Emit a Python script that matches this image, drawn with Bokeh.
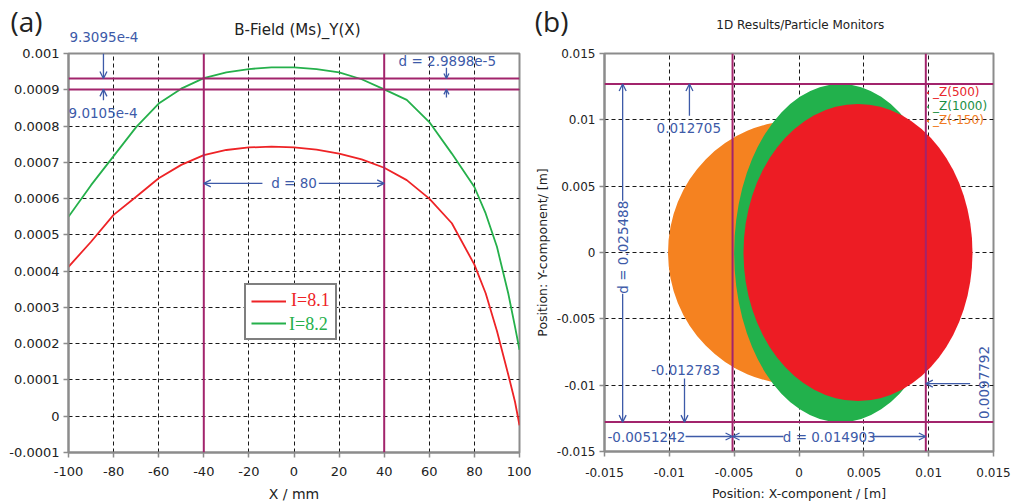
import math
from bokeh.plotting import figure
from bokeh.layouts import row, column
from bokeh.models import (Span, Label, Arrow, OpenHead, Legend, LegendItem,
                          FixedTicker, Range1d, LinearAxis)
from bokeh.embed import file_html
from bokeh.resources import INLINE

# ---------------- panel (a) data ----------------
x_mm = [-100, -90, -80, -70, -60, -50, -40, -30, -20, -10, 0, 10, 20, 30,
        40, 50, 60, 70, 80, 85, 90, 95, 98, 100]
b_i81 = [0.000412, 0.000481, 0.000555, 0.000605, 0.000656, 0.000693, 0.000720,
         0.000734, 0.000741, 0.000743, 0.000741, 0.000735, 0.000724, 0.000708,
         0.000685, 0.000651, 0.000600, 0.000532, 0.000418, 0.000339, 0.000235,
         0.000115, 0.000040, -0.000025]
b_i82 = [0.000550, 0.000637, 0.000717, 0.000797, 0.000862, 0.000903, 0.000932,
         0.000948, 0.000957, 0.000962, 0.000962, 0.000957, 0.000948, 0.000929,
         0.000901, 0.000872, 0.000811, 0.000724, 0.000632, 0.000559, 0.000467,
         0.000339, 0.000247, 0.000183]
series_a = ["I=8.1", "I=8.2"]
a_xticks = [-100, -80, -60, -40, -20, 0, 20, 40, 60, 80, 100]
a_xlabels = ["-100", "-80", "-60", "-40", "-20", "0", "20", "40", "60", "80", "100"]
a_yticks = [-0.0001, 0.0, 0.0001, 0.0002, 0.0003, 0.0004, 0.0005, 0.0006,
            0.0007, 0.0008, 0.0009, 0.001]
a_ylabels = ["-0.0001", "0", "0.0001", "0.0002", "0.0003", "0.0004", "0.0005",
             "0.0006", "0.0007", "0.0008", "0.0009", "0.001"]
a_cursor_x = [-40, 40]
a_cursor_y = [9.3095e-4, 9.0105e-4]
a_texts = ["9.3095e-4", "9.0105e-4", "d = 2.9898e-5", "d = 80"]

# ---------------- panel (b) data ----------------
monitor_names = ["_Z(500)", "_Z(1000)", "_Z(-150)"]
monitor_cx = [0.00455, 0.0032, -0.0002]
monitor_cy = [0.0, -0.00004, 0.0]
monitor_w = [0.01766, 0.0164, 0.0198]
monitor_h = [0.0224, 0.0255, 0.01985]
b_ticks = [-0.015, -0.01, -0.005, 0.0, 0.005, 0.01, 0.015]
b_labels = ["-0.015", "-0.01", "-0.005", "0", "0.005", "0.01", "0.015"]
b_cursor_x = [-0.0051242, 0.0097792]
b_cursor_y = [0.012705, -0.012783]

# ---------------- styles / layout constants ----------------
RED = "#ee2326"
GREEN = "#25b04b"
FILL = ["#ed1c24", "#22b14c", "#f58220"]
TXT = ["#e8262b", "#1c8f44", "#f07a22"]
PURPLE = "#a2246c"
ANN = "#3d5aa8"
AXC = "#8c8c8c"
DARK = "#222222"
FONT = "DejaVu Sans"
HEAD_H = 44          # header strip height; plot frames start at y = 53
TOP = 53 - HEAD_H
WA, WB = 531, 486


def style(p, xticks, xlabels, yticks, ylabels, tick_size, xstand, ystand):
    p.background_fill_color = "white"
    p.border_fill_color = "white"
    p.outline_line_color = AXC
    p.outline_line_width = 2
    for ax, ticks, labels, st in ((p.xaxis[0], xticks, xlabels, xstand),
                                  (p.yaxis[0], yticks, ylabels, ystand)):
        ax.ticker = FixedTicker(ticks=ticks)
        ax.major_label_overrides = {t: l for t, l in zip(ticks, labels)}
        ax.axis_line_color = AXC
        ax.axis_line_width = 2
        ax.major_tick_line_color = AXC
        ax.major_tick_line_width = 1.5
        ax.major_tick_out = 5
        ax.major_tick_in = 0
        ax.minor_tick_line_color = None
        ax.major_label_text_font = FONT
        ax.major_label_text_font_size = tick_size
        ax.major_label_text_color = DARK
        ax.major_label_standoff = st
    for g in (p.xgrid[0], p.ygrid[0]):
        g.grid_line_color = "black"
        g.grid_line_dash = "4 3"
        g.grid_line_width = 1
        g.grid_line_alpha = 0.9


def axis_label(ax, text, size, standoff):
    ax.axis_label = text
    ax.axis_label_text_font = FONT
    ax.axis_label_text_font_size = size
    ax.axis_label_text_font_style = "normal"
    ax.axis_label_text_color = DARK
    ax.axis_label_standoff = standoff


def add_arrow(p, xs, ys, xe, ye, size=7, head=True):
    end = OpenHead(size=size, line_color=ANN, line_width=1.3) if head else None
    p.add_layout(Arrow(end=end, x_start=xs, y_start=ys, x_end=xe, y_end=ye,
                       line_color=ANN, line_width=1.3))


def add_label(p, x, y, text, size="13.5px", align="center", color=ANN,
              angle=0.0, font=FONT, **kw):
    p.add_layout(Label(x=x, y=y, text=text, text_align=align,
                       text_baseline="middle", text_color=color,
                       text_font=font, text_font_size=size, angle=angle, **kw))


def header(width, x_range, tag, tag_standoff, min_left):
    # strip above a panel: shares the panel's x scale, y counts pixels from top;
    # the panel tag is the single tick label of a bare left axis
    h = figure(width=width, height=HEAD_H, output_backend="svg",
               toolbar_location=None, x_axis_type=None, y_axis_type=None,
               x_range=x_range, y_range=Range1d(HEAD_H, 0), min_border=0,
               min_border_left=min_left)
    h.outline_line_color = None
    h.background_fill_color = "white"
    h.border_fill_color = "white"
    ax = LinearAxis(ticker=FixedTicker(ticks=[20]),
                    major_label_overrides={20: tag})
    ax.axis_line_color = None
    ax.major_tick_line_color = None
    ax.minor_tick_line_color = None
    ax.major_tick_out = 0
    ax.major_tick_in = 0
    ax.major_label_standoff = tag_standoff
    ax.major_label_text_font = "Open Sans"
    ax.major_label_text_font_size = "28px"
    ax.major_label_text_color = DARK
    h.add_layout(ax, "left")
    return h


# ================= panel (a) =================
pa = figure(width=WA, height=504 - HEAD_H, x_range=Range1d(-100, 100),
            y_range=Range1d(-0.0001, 0.001), output_backend="svg",
            toolbar_location=None, min_border_left=68, min_border_right=12,
            min_border_top=TOP, min_border_bottom=51)
style(pa, a_xticks, a_xlabels, a_yticks, a_ylabels, "13px", 9, 4)
axis_label(pa.xaxis[0], "X / mm", "14px", 7)

r81 = pa.line(x_mm, b_i81, line_color=RED, line_width=1.8)
r82 = pa.line(x_mm, b_i82, line_color=GREEN, line_width=1.8)
r82_key = pa.line(x_mm, b_i82, line_alpha=0)

for v in a_cursor_x:
    pa.add_layout(Span(location=v, dimension="height", line_color=PURPLE,
                       line_width=2))
for v in a_cursor_y:
    pa.add_layout(Span(location=v, dimension="width", line_color=PURPLE,
                       line_width=2))

add_arrow(pa, -84.5, 0.001, -84.5, a_cursor_y[0])
add_label(pa, -100, 0.000835, a_texts[1], align="left")
add_arrow(pa, -84.5, 0.000871, -84.5, a_cursor_y[1])
add_label(pa, 68, 0.000978, a_texts[2])
add_arrow(pa, 67.6, 0.000961, 67.6, a_cursor_y[0], size=5)
add_arrow(pa, 67.6, 0.000879, 67.6, a_cursor_y[1], size=5)
add_label(pa, 0, 0.000642, a_texts[3])
add_arrow(pa, -14, 0.000642, a_cursor_x[0], 0.000642)
add_arrow(pa, 11, 0.000642, a_cursor_x[1], 0.000642)

common = dict(location=(176, 112), padding=5, spacing=2, margin=0,
              glyph_width=35, glyph_height=20, label_height=20,
              label_standoff=5, label_text_font="Liberation Serif",
              label_text_font_size="18px")
leg_a = Legend(items=[LegendItem(label=series_a[0], renderers=[r81]),
                      LegendItem(label=" ", renderers=[r82])],
               label_text_color=RED, border_line_color="black",
               border_line_width=2, background_fill_color="white",
               background_fill_alpha=1.0, **common)
leg_b = Legend(items=[LegendItem(label=series_a[1], renderers=[r82_key])],
               label_text_color=GREEN, border_line_alpha=0,
               background_fill_alpha=0, **common)
pa.add_layout(leg_a)
pa.add_layout(leg_b)

ha = header(WA, pa.x_range, "(a)", 26, 68)
add_label(ha, 1.5, 29, "B-Field (Ms)_Y(X)", size="15px", color=DARK)
add_label(ha, -84.3, 36.5, a_texts[0])

# ================= panel (b) =================
pb = figure(width=WB, height=504 - HEAD_H, x_range=Range1d(-0.015, 0.015),
            y_range=Range1d(-0.015, 0.015), output_backend="svg",
            toolbar_location=None, min_border_left=73, min_border_right=24,
            min_border_top=TOP, min_border_bottom=53)
style(pb, b_ticks, b_labels, b_ticks, b_labels, "12px", 11, 4)
axis_label(pb.xaxis[0], "Position: X-component / [m]", "12.5px", 6)
axis_label(pb.yaxis[0], "Position: Y-component/ [m]", "12.5px", 4)

rend = [None, None, None]
for i in (2, 1, 0):
    rend[i] = pb.ellipse(x=[monitor_cx[i]], y=[monitor_cy[i]],
                         width=[monitor_w[i]], height=[monitor_h[i]],
                         fill_color=FILL[i], line_color=None)

for v in b_cursor_x:
    pb.add_layout(Span(location=v, dimension="height", line_color=PURPLE,
                       line_width=2))
for v in b_cursor_y:
    pb.add_layout(Span(location=v, dimension="width", line_color=PURPLE,
                       line_width=2))

dy = b_cursor_y[0] - b_cursor_y[1]
dx = b_cursor_x[1] - b_cursor_x[0]
add_label(pb, -0.0085, 0.0094, f"{b_cursor_y[0]:g}")
add_arrow(pb, -0.00845, 0.0103, -0.00845, b_cursor_y[0])
add_label(pb, -0.0136, 0.0004, f"d = {dy:.6g}", angle=math.pi / 2)
add_arrow(pb, -0.0136, 0.0039, -0.0136, b_cursor_y[0])
add_arrow(pb, -0.0136, -0.0031, -0.0136, b_cursor_y[1])
add_label(pb, -0.00875, -0.00889, f"{b_cursor_y[1]:g}")
add_arrow(pb, -0.00883, -0.0095, -0.00883, b_cursor_y[1])
add_label(pb, -0.01477, -0.01387, f"{b_cursor_x[0]:g}", align="left")
add_arrow(pb, -0.00875, -0.01387, b_cursor_x[0], -0.01387)
add_label(pb, 0.00233, -0.01387, f"d = {dx:.5g}")
add_arrow(pb, -0.0012, -0.01387, b_cursor_x[0], -0.01387)
add_arrow(pb, 0.0057, -0.01387, b_cursor_x[1], -0.01387)
add_label(pb, 0.01423, -0.0098, f"{b_cursor_x[1]:g}", angle=math.pi / 2)
add_arrow(pb, 0.0132, -0.00988, b_cursor_x[1], -0.00988)

leg_y = [352, 338, 324]
for i in range(3):
    pb.add_layout(Legend(
        items=[LegendItem(label=monitor_names[i], renderers=[rend[i]])],
        location=(322, leg_y[i]), padding=0, spacing=0, margin=0,
        glyph_width=3, glyph_height=3, label_height=14, label_standoff=4,
        label_text_font=FONT, label_text_font_size="12px",
        label_text_color=TXT[i], border_line_alpha=0,
        background_fill_alpha=0))

hb = header(WB, pb.x_range, "(b)", 36, 73)
add_label(hb, 0.0001, 24, "1D Results/Particle Monitors", size="12px", color=DARK)

layout = row(column(ha, pa), column(hb, pb))
open("out.html", "w").write(file_html(layout, INLINE))
